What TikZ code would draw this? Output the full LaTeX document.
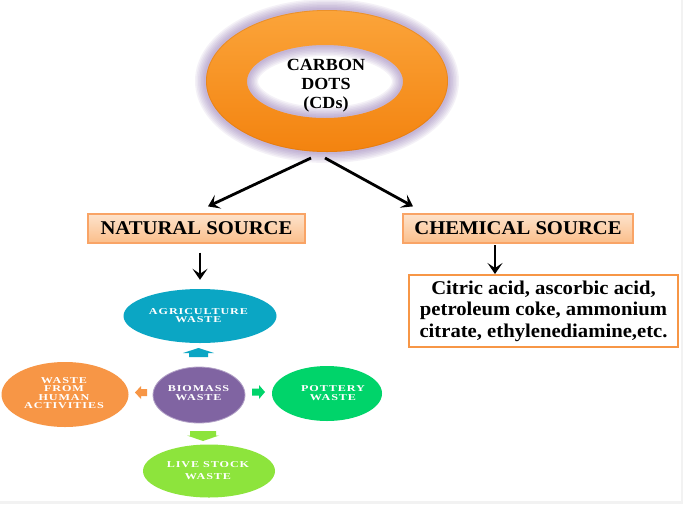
\documentclass[tikz,border=0pt]{standalone}
\usepackage{fontspec}
\setmainfont{Liberation Serif}
\newfontfamily\wfont[LetterSpace=10,FakeStretch=1.35]{Liberation Serif}
\newfontfamily\hfont[FakeStretch=1.06]{Liberation Serif}
\usetikzlibrary{arrows.meta,shapes.geometric}
\definecolor{ringtop}{HTML}{FBA43A}
\definecolor{ringbot}{HTML}{F3830F}
\definecolor{glowc}{HTML}{8A6CB0}
\definecolor{boxtop}{HTML}{FDE3CC}
\definecolor{boxbot}{HTML}{FBBE8A}
\definecolor{boxline}{HTML}{F9A466}
\definecolor{citline}{HTML}{F79646}
\definecolor{teal}{HTML}{0BA6C4}
\definecolor{purp}{HTML}{8064A2}
\definecolor{orng}{HTML}{F79646}
\definecolor{grn}{HTML}{00D46A}
\definecolor{lime}{HTML}{8DE43C}
\definecolor{edge}{HTML}{F2F2F2}
\tikzset{
  arr/.style={line width=2.8pt, -{Stealth[length=11pt,width=15pt,inset=5pt]}},
  srcbox/.style={rectangle, draw=boxline, line width=1.2pt, top color=boxtop, bottom color=boxbot,
    font=\fontsize{19.5}{22}\selectfont\hfont\bfseries, inner sep=0pt},
  wnode/.style={ellipse, inner sep=0pt, text=white, align=center},
  wtext/.style={font=\fontsize{9}{8.4}\selectfont\wfont\bfseries},
}
\begin{document}
\begin{tikzpicture}[x=1pt,y=-1pt]
\useasboundingbox (0,0) rectangle (683,504);
\fill[white] (0,0) rectangle (683,504);
\fill[edge] (681,0) rectangle (683,504);
\fill[edge] (0,501) rectangle (683,504);

% glow
\foreach \w in {22,19,16,13,10,7,4}{
  \draw[glowc, opacity=0.09, line width=\w pt] (327,81) ellipse [x radius=121, y radius=71];
  \draw[glowc, opacity=0.09, line width=\w pt] (325,81.5) ellipse [x radius=78, y radius=36.5];
}
% ring
\path[even odd rule, top color=ringtop, bottom color=ringbot]
  (327,81) ellipse [x radius=121, y radius=71]
  (325,81.5) ellipse [x radius=78, y radius=36.5];
\draw[ringbot!85!black, opacity=0.35, line width=0.8pt] (327,81) ellipse [x radius=120.6, y radius=70.6];
\node[align=center, font=\fontsize{17}{19}\selectfont\hfont\bfseries] (cd) at (326,86) {CARBON\\DOTS\\(CDs)};

\coordinate (ringL) at (311,158);
\coordinate (ringR) at (325,158);

% source boxes
\node[srcbox, minimum width=217pt, minimum height=29pt] (nat) at (196.5,228.5) {NATURAL SOURCE};
\node[srcbox, minimum width=230pt, minimum height=29pt] (chem) at (518,228.5) {CHEMICAL SOURCE};

\draw[arr] (ringL) -- ([xshift=-103pt,yshift=7pt]ringL |- nat.north);
\draw[arr] (ringR) -- ([xshift=88pt,yshift=7pt]ringR |- chem.north);

% chemical list
\node[rectangle, draw=citline, line width=2pt, minimum width=269pt, minimum height=72pt,
  align=center, inner sep=0pt, font=\fontsize{19.5}{21.5}\selectfont\hfont\bfseries] (cit) at (543.5,311)
  {Citric acid, ascorbic acid,\\petroleum coke, ammonium\\citrate, ethylenediamine,etc.};
\coordinate (c1) at (495,243);
\draw[arr, shorten <=2pt] (c1) -- (c1 |- cit.north);

% biomass cluster
\node[wnode, fill=teal, minimum width=153pt, minimum height=54pt] (agri) at (200,316) {};
\node[wtext, text=white, align=center] at (198.5,315.5) {AGRICULTURE\\WASTE};
\node[wnode, fill=purp, draw=purp!60!white, line width=0.8pt, minimum width=92pt, minimum height=56pt] (bio) at (199,395) {};
\node[wtext, text=white, align=center] at (198.5,393) {BIOMASS\\WASTE};
\node[wnode, fill=orng, minimum width=127pt, minimum height=65pt] (hum) at (65,394.5) {};
\node[wtext, text=white, align=center] at (64,393) {WASTE\\FROM\\HUMAN\\ACTIVITIES};
\node[wnode, fill=grn, minimum width=110pt, minimum height=55pt] (pot) at (327,393.5) {};
\node[wtext, text=white, align=center] at (333,393) {POTTERY\\WASTE};
\node[wnode, fill=lime, minimum width=132pt, minimum height=53pt] (live) at (209,471) {};
\node[wtext, font=\fontsize{9}{12.5}\selectfont\wfont\bfseries, text=white, align=center] at (208,470.5) {LIVE STOCK\\WASTE};

\draw[arr, shorten <=9pt, shorten >=9pt] (nat.south -| agri.north) -- (agri.north);

% block arrows
\fill[teal] (198.5,348) -- (214,353) -- (208,353) -- (208,357) -- (189,357) -- (189,353) -- (183,353) -- cycle;
\fill[orng] (135,392.5) -- (141,386) -- (141,389) -- (147,389) -- (147,396) -- (141,396) -- (141,399) -- cycle;
\fill[grn] (265,392) -- (259,385) -- (259,388.5) -- (252,388.5) -- (252,395.5) -- (259,395.5) -- (259,399) -- cycle;
\fill[lime] (190,431) -- (216,431) -- (216,435.5) -- (219,435.5) -- (203,441) -- (187,435.5) -- (190,435.5) -- cycle;
\end{tikzpicture}
\end{document}
